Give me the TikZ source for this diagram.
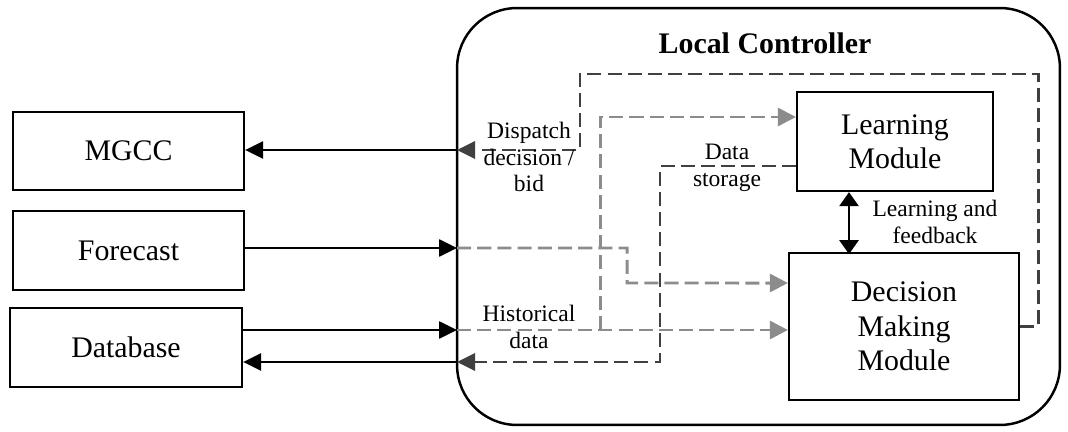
\documentclass[tikz,border=0pt]{standalone}
\usepackage{fontspec}
\setmainfont{Liberation Serif}
\usetikzlibrary{positioning,arrows.meta}

\begin{document}
\begin{tikzpicture}[x=0.02cm, y=-0.02cm,
    block/.style={rectangle, draw=black, line width=1.3pt, align=center, font=\fontsize{17}{19.5}\selectfont},
    note/.style={align=center, inner sep=0pt, font=\fontsize{13.4}{15.3}\selectfont},
    solidarrow/.style={-{Triangle[length=0.36cm,width=0.34cm]}, line width=1.5pt},
    bothway/.style={{Triangle[length=0.28cm,width=0.38cm]}-{Triangle[length=0.28cm,width=0.38cm]}, line width=1.5pt},
    darkdash/.style={-{Triangle[length=0.36cm,width=0.34cm]}, black!75, line width=1.6pt, dash pattern=on 8pt off 3.5pt},
    greydash/.style={-{Triangle[length=0.36cm,width=0.36cm]}, black!45, line width=1.7pt, dash pattern=on 8pt off 3.5pt}
]
    \useasboundingbox (0,0) rectangle (1068,432);

    \node[draw, line width=1.4pt, rounded corners=1.2cm, minimum width=12.06cm, minimum height=8.34cm] (ctrl) at (758.5,216.5) {};
    \node[font=\bfseries\fontsize{17}{19}\selectfont] (title) at (765,43) {Local Controller};

    \node[block, minimum width=4.62cm, minimum height=1.56cm] (mgcc) at (128.5,151) {MGCC};
    \node[block, minimum width=4.62cm, minimum height=1.58cm] (forecast) at (128.5,250.5) {Forecast};
    \node[block, minimum width=4.64cm, minimum height=1.58cm] (database) at (126,347.5) {Database};

    \node[block, minimum width=3.92cm, minimum height=1.98cm] (learn) at (895,141.5) {Learning\\Module};
    \node[block, minimum width=4.6cm, minimum height=2.94cm] (decision) at (904,326.5) {Decision\\Making\\Module};

    % points on the controller border
    \coordinate (dispIn) at (457,150);
    \coordinate (fcIn) at (457,248);
    \coordinate (histIn) at (457,330);
    \coordinate (dbBack) at (457,362);
    \coordinate (histSplit) at (600,330);

    % outside links
    \draw[solidarrow] (dispIn) -- (mgcc.east |- dispIn);
    \draw[solidarrow] (forecast.east |- fcIn) -- (fcIn);
    \draw[solidarrow] (database.east |- histIn) -- (histIn);
    \draw[solidarrow] (dbBack) -- (database.east |- dbBack);

    % inside links
    \draw[darkdash] (decision.east) -- ++(18,0) |- (580,74) |- (dispIn);
    \draw[greydash] (fcIn) -- (627,248) -- (627,283) -- ([yshift=0.87cm]decision.west);
    \draw[greydash] (histIn) -- (decision.west |- histIn);
    \draw[greydash] (histSplit) |- ([yshift=0.49cm]learn.west);
    \draw[darkdash] ([yshift=-0.49cm]learn.west) -| (660,362) -- (dbBack);
    \draw[bothway] ([xshift=-0.92cm]learn.south) -- ++(0,62);

    \node[note] (dispLbl) at (529,157) {Dispatch\\decision /\\bid};
    \node[note] (storeLbl) at (727,168) {Data\\storage};
    \node[note] (histLbl) at (529,327) {Historical\\data};
    \node[note] (feedLbl) at (935,222) {Learning and\\feedback};
\end{tikzpicture}
\end{document}
